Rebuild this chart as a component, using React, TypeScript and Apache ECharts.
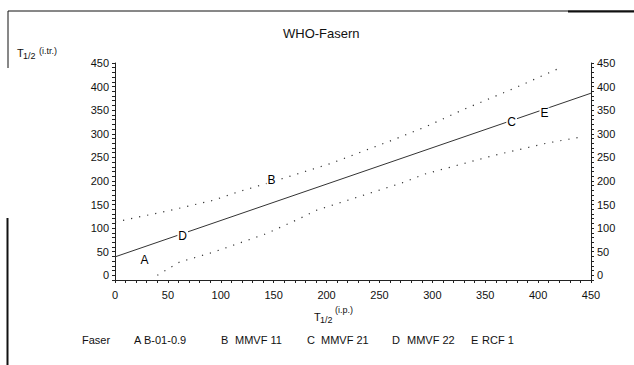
import React, { useEffect, useRef } from "react";
import * as echarts from "echarts";

const FONT = "'Liberation Sans', Arial, sans-serif";

const mainLine: [number, number][] = [
  [0, 39],
  [450, 386],
];
const upperBand: [number, number][] = [
  [0, 113], [17, 121], [49, 136], [93, 159], [118, 178], [144, 195],
  [204, 237], [264, 288], [295, 316], [328, 350], [377, 396], [422, 441],
];
const lowerBand: [number, number][] = [
  [40, 0], [61, 28], [93, 49], [144, 89], [181, 127], [188, 136],
  [273, 197], [292, 214], [358, 254], [408, 280], [440, 293],
];
const fiberLetters = ["A", "B", "C", "D", "E"];
const fiberNames = ["B-01-0.9", "MMVF 11", "MMVF 21", "MMVF 22", "RCF 1"];
const fiberX = [28, 148, 375, 64, 406];
const fiberY = [32, 201, 324, 83, 343];

const legendLetterX = [134, 221, 307, 392, 471];
const legendNameX = [144, 235, 321, 407, 482];

export default function App() {
  const ref = useRef<HTMLDivElement>(null);
  useEffect(() => {
    if (!ref.current) return;
    const chart = echarts.init(ref.current, null, { renderer: "svg" });
    const axisColor = "#222";
    const lbl = (v: number) => (v % 50 === 0 && v >= 0 ? String(v) : "");
    const txt = (text: string, x: number, y: number, size: number, extra: any = {}) => ({
      type: "text",
      x,
      y,
      style: {
        text,
        fontSize: size,
        fontFamily: FONT,
        fill: "#111",
        verticalAlign: "top",
        align: "left",
        ...extra,
      },
    });
    const graphics: any[] = [
      { type: "line", shape: { x1: 8, y1: 11, x2: 634, y2: 11 }, style: { stroke: "#111", lineWidth: 1 } },
      { type: "line", shape: { x1: 568, y1: 11.5, x2: 634, y2: 11.5 }, style: { stroke: "#111", lineWidth: 2 } },
      { type: "line", shape: { x1: 8, y1: 11, x2: 8, y2: 68 }, style: { stroke: "#111", lineWidth: 1 } },
      { type: "line", shape: { x1: 7.5, y1: 218, x2: 7.5, y2: 365 }, style: { stroke: "#111", lineWidth: 2 } },
      txt("WHO-Fasern", 283, 27, 13),
      txt("T", 17, 47, 11),
      txt("1/2", 23, 51, 9),
      txt("(i.tr.)", 39, 46, 9),
      txt("T", 314, 311, 11),
      txt("1/2", 320, 315, 9),
      txt("(i.p.)", 335, 305, 9),
      txt("Faser", 82, 334, 11),
    ];
    fiberLetters.forEach((l, i) => {
      graphics.push(txt(l, legendLetterX[i], 334, 11));
      graphics.push(txt(fiberNames[i], legendNameX[i], 334, 11));
    });

    const yAxisBase = {
      type: "value",
      min: -10,
      max: 450,
      interval: 10,
      splitLine: { show: false },
      axisLine: { show: true, lineStyle: { color: axisColor, width: 1 } },
      axisTick: { show: true, length: 3, lineStyle: { color: axisColor } },
      axisLabel: {
        formatter: lbl,
        fontSize: 11,
        fontFamily: FONT,
        color: "#111",
        margin: 6,
      },
    };

    chart.setOption({
      animation: false,
      backgroundColor: "#fff",
      grid: { left: 115, right: 43, top: 63, bottom: 85, containLabel: false },
      xAxis: {
        type: "value",
        min: 0,
        max: 450,
        interval: 10,
        splitLine: { show: false },
        axisLine: { show: true, onZero: false, lineStyle: { color: axisColor, width: 1 } },
        axisTick: { show: true, length: 3, lineStyle: { color: axisColor } },
        axisLabel: {
          formatter: lbl,
          fontSize: 11,
          fontFamily: FONT,
          color: "#111",
          margin: 9,
        },
      },
      yAxis: [
        { ...yAxisBase, position: "left" },
        { ...yAxisBase, position: "right" },
      ],
      series: [
        {
          type: "line",
          data: mainLine,
          symbol: "none",
          lineStyle: { color: "#333", width: 1 },
          z: 2,
        },
        {
          type: "line",
          data: upperBand,
          symbol: "none",
          lineStyle: { color: "#333", width: 1.2, type: [1.2, 7] },
          z: 2,
        },
        {
          type: "line",
          data: lowerBand,
          symbol: "none",
          lineStyle: { color: "#333", width: 1.2, type: [1.2, 7] },
          z: 2,
        },
        {
          type: "scatter",
          data: fiberLetters.map((l, i) => ({ name: l, value: [fiberX[i], fiberY[i]] })),
          symbol: "circle",
          symbolSize: 1,
          itemStyle: { color: "#ffffff", opacity: 1 },
          label: {
            show: true,
            position: "inside",
            formatter: (p: any) => p.name,
            fontSize: 12,
            fontFamily: FONT,
            color: "#000000",
            opacity: 1,
            textBorderWidth: 0,
            backgroundColor: "#ffffff",
            padding: [0, 1],
          },
          z: 5,
        },
      ],
      graphic: graphics,
    });
    return () => chart.dispose();
  }, []);
  return <div ref={ref} style={{ width: 634, height: 365, position: "absolute", left: 0, top: 0 }} />;
}
